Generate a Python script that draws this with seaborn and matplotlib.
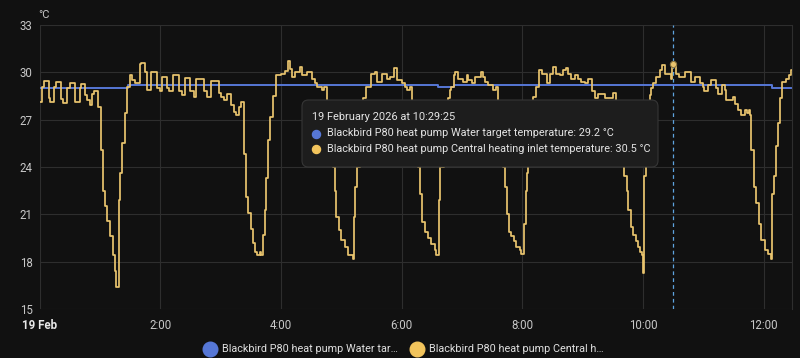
import matplotlib
matplotlib.use("Agg")
import pandas as pd
import seaborn as sns
import matplotlib.pyplot as plt
from matplotlib.patches import FancyBboxPatch
from matplotlib.lines import Line2D

# --- data (minutes after midnight, 19 Feb 2026) ---
target_steps = [
    (0, 29.0), (88, 29.2), (396, 29.1), (412, 29.2), (728.5, 29.0), (748, 29.0),
]

inlet_steps = [
    (0, 28.1), (2, 29.1), (4.5, 29.45), (9, 28.35), (10.5, 28.15), (14.5, 29.1), (16.5, 29.4),
    (21, 28.3), (23, 28.05), (27.5, 29.0), (30, 29.3), (35, 28.1), (40, 29.0), (41.5, 29.25),
    (45.5, 28.55), (47.5, 28.25), (50, 27.9), (52, 28.6), (54, 28.8), (58, 27.8),
    (61, 25.1), (63, 22.5), (65, 21.5), (67.5, 20.6), (70, 19.6), (73.5, 18.4), (75, 17.4),
    (76.5, 16.4), (79, 21.9), (80.5, 23.6), (82.5, 25.5), (85, 27.4), (87, 29.1),
    (89.5, 29.8), (92, 29.5), (94.5, 29.3), (99.5, 30.5), (101, 30.6), (105, 30.05), (106.5, 28.9),
    (111, 30.05), (117, 29.0), (119.5, 28.8), (121.5, 29.7), (126.5, 29.0), (128.5, 28.8),
    (132.5, 29.8), (138.5, 28.8), (141.5, 28.55), (145, 29.65), (150, 28.8), (153.5, 28.45),
    (156, 29.6), (163.5, 28.8), (166.5, 28.45), (170.5, 29.45), (178, 28.7), (180.5, 28.45),
    (183, 28.25), (186, 28.6), (190.5, 27.9), (193, 27.5), (195.5, 27.3), (198, 27.8), (200, 28.1),
    (203, 24.8), (205, 22.1), (207.5, 21.1), (210, 20.1), (212, 19.2), (214, 18.6), (216, 18.4),
    (219, 18.6), (220.5, 18.4), (222.5, 19.7), (224, 21.3), (225.5, 23.3), (227.5, 25.7),
    (229.5, 27.2), (232, 28.5), (235, 29.8), (240, 29.9), (244, 30.1), (247, 30.7), (249, 30.2),
    (251, 29.7), (254, 30.0), (259, 30.35), (261, 29.8), (265.5, 30.05), (270.5, 29.6),
    (273.5, 29.3), (275.5, 29.1), (280.5, 28.9), (283, 29.1),
    (285.5, 26.5), (288.5, 25.0), (292, 24.0), (293.5, 22.5), (295, 20.85), (298, 20.0),
    (300, 19.4), (303.5, 18.95), (306.5, 18.4), (311.5, 18.2), (312.5, 20.85), (313.5, 22.75),
    (315.5, 24.0), (318.5, 26.5), (321.5, 28.4), (325, 29.1), (329.5, 29.9), (333, 30.05),
    (335, 29.4), (340.5, 29.9), (345, 29.6), (348, 29.7), (352, 30.25), (355, 29.5), (360, 29.3),
    (363, 29.1), (365, 28.9), (368, 29.1),
    (370, 26.5), (373, 25.0), (376.5, 24.0), (378, 22.3), (380.5, 20.5), (383, 19.9), (386, 19.5),
    (389.5, 19.15), (393, 18.75), (394.5, 18.4), (397, 21.9), (398.5, 24.0), (402, 26.5),
    (406, 28.4), (408, 28.9), (409.5, 29.1), (412, 29.8), (413.5, 30.05), (416, 29.6), (421, 29.4),
    (424.5, 29.8), (426, 29.5), (429.5, 29.3), (432.5, 29.7), (439, 30.05), (441, 29.7),
    (442.5, 29.4), (446, 29.2), (451, 28.9), (454, 29.1),
    (456, 26.5), (458.5, 25.0), (461, 24.0), (462.5, 22.75), (465, 21.05), (467, 19.9), (469, 19.6),
    (471.5, 19.3), (474, 18.95), (477.5, 18.75), (479, 18.5), (481.5, 20.4), (483.5, 22.5),
    (484.5, 23.6), (486, 25.5), (488, 27.0), (490.5, 28.45), (494, 29.1), (497, 30.15), (499, 29.9),
    (504, 29.3), (507, 29.9), (510.5, 30.35), (513, 29.9), (517, 29.8), (520.5, 30.15),
    (523.5, 30.25), (525.5, 29.9), (528.5, 29.6), (532, 29.8), (535, 29.6), (538.5, 29.4),
    (542, 29.3), (545, 29.6), (549, 28.8), (552, 28.35), (555, 28.65), (562, 28.35), (570, 28.7),
    (573.5, 26.5), (576.5, 25.2), (580, 24.2), (581.5, 23.4), (583.5, 22.5), (585, 21.3),
    (587.5, 20.2), (590, 19.7), (592.5, 19.3), (595, 18.95), (597, 18.6), (599, 18.4), (600, 17.3),
    (601, 23.4), (602.5, 24.2), (605, 26.3), (606.5, 28.55), (608, 29.0), (610, 29.3), (613, 29.7),
    (617, 30.15), (619, 30.45), (622, 29.9), (627.5, 29.6), (629, 30.5), (633, 29.9), (636, 29.7),
    (642, 30.05), (647.5, 29.4), (652, 29.7), (657, 29.3), (659.5, 29.1), (661, 28.8), (664.5, 29.2),
    (667, 29.5), (672, 29.0), (674.5, 28.65), (678, 29.2), (681, 28.9), (682.5, 28.25), (689, 28.45),
    (691, 28.0), (694, 27.6), (697.5, 27.3), (701, 27.6), (703, 27.4), (705, 27.6), (706.5, 27.3),
    (707.5, 25.1), (710, 22.75), (712.5, 21.7), (715, 20.4), (717.5, 19.4), (721, 18.75),
    (724, 18.5), (727.5, 18.2), (728.5, 22.3), (730.5, 23.4), (732.5, 25.3), (734, 26.8),
    (736.5, 28.35), (738.5, 29.4), (742.5, 29.6), (745.5, 29.8), (747, 30.15), (748, 30.15),
]

x_ticks = [0, 2, 4, 6, 8, 10, 12]
x_tick_labels = ["19 Feb", "2:00", "4:00", "6:00", "8:00", "10:00", "12:00"]
y_ticks = [15, 18, 21, 24, 27, 30, 33]

cursor_minute = 629.4
cursor_label = "19 February 2026 at 10:29:25"
cursor_target = 29.2
cursor_inlet = 30.5

target_name = "Blackbird P80 heat pump Water target temperature"
inlet_name = "Blackbird P80 heat pump Central heating inlet temperature"
legend_labels = ["Blackbird P80 heat pump Water tar\u2026", "Blackbird P80 heat pump Central h\u2026"]

# --- colours ---
BG = "#111111"
GRID = "#2e2e2e"
TICK = "#c8c8c8"
BLUE = "#5677d6"
YELLOW = "#e9c46e"
LEG_YELLOW = "#f2c45c"
CURSOR = "#5fa4e0"

target = pd.DataFrame(target_steps, columns=["minute", "temp"])
inlet = pd.DataFrame(inlet_steps, columns=["minute", "temp"])
target["hour"] = target["minute"] / 60
inlet["hour"] = inlet["minute"] / 60

sns.set_theme(style="dark")
plt.rcParams["font.family"] = ["Roboto", "DejaVu Sans"]

fig = plt.figure(figsize=(8, 3.58), dpi=100, facecolor=BG)
ax = fig.add_axes([39.5 / 800, 49 / 358, (792 - 39.5) / 800, 284 / 358])
ax.set_facecolor(BG)

sns.lineplot(data=target, x="hour", y="temp", ax=ax, color=BLUE, lw=1.4,
             drawstyle="steps-post", estimator=None, legend=False)
sns.lineplot(data=inlet, x="hour", y="temp", ax=ax, color=YELLOW, lw=1.25,
             drawstyle="steps-post", estimator=None, legend=False)

# hover cursor
cursor_hour = cursor_minute / 60
ax.axvline(cursor_hour, color=CURSOR, lw=0.9, ls=(0, (3, 2.5)), zorder=1)
ax.plot([cursor_hour], [cursor_inlet], "o", ms=4.5, mfc=YELLOW, mec="#8a7440", mew=0.8)

ax.set_xlim(0, inlet["hour"].max())
ax.set_ylim(15, 33)
ax.set_xticks(x_ticks)
ax.set_xticklabels(x_tick_labels)
ax.set_yticks(y_ticks)
ax.set_xlabel("")
ax.set_ylabel("")
ax.grid(True, color=GRID, lw=0.8)
ax.set_axisbelow(True)
ax.tick_params(length=0, colors=TICK, labelsize=8.3)
ax.tick_params(axis="y", pad=5)
ax.tick_params(axis="x", pad=7)
ax.get_xticklabels()[0].set_fontweight("bold")
ax.get_xticklabels()[0].set_color("#e8e8e8")
for side in ["top", "left", "bottom"]:
    ax.spines[side].set_visible(False)
ax.spines["right"].set_color(GRID)
ax.spines["right"].set_linewidth(0.8)

fig.text(38 / 800, 1 - 15 / 358, "\u00b0C", color=TICK, fontsize=8, va="center")

# tooltip
box = FancyBboxPatch((302 / 800, 1 - 167 / 358), 356 / 800, 67 / 358,
                     boxstyle="round,pad=0,rounding_size=0.008", mutation_aspect=800 / 358,
                     transform=fig.transFigure, facecolor="#1d1d1d", edgecolor="#363636",
                     lw=0.8, zorder=5)
fig.add_artist(box)
fig.text(311.5 / 800, 1 - 117 / 358, cursor_label, color="#e4e4e4", fontsize=7.9,
         va="center", zorder=6)
rows = [(BLUE, f"{target_name}: {cursor_target} \u00b0C", 133.5),
        (LEG_YELLOW, f"{inlet_name}: {cursor_inlet} \u00b0C", 149.5)]
for col, txt, ypix in rows:
    fig.add_artist(Line2D([316 / 800], [1 - ypix / 358], marker="o", ms=5.8, color=col,
                          transform=fig.transFigure, zorder=6))
    fig.text(327 / 800, 1 - ypix / 358, txt, color="#e4e4e4", fontsize=7.8,
             va="center", zorder=6)

# legend
for col, txt, xc in [(BLUE, legend_labels[0], 210), (LEG_YELLOW, legend_labels[1], 417)]:
    fig.add_artist(Line2D([xc / 800], [1 - 348.5 / 358], marker="o", ms=10.5, color=col,
                          transform=fig.transFigure))
    fig.text((xc + 12) / 800, 1 - 348.5 / 358, txt, color="#e0e0e0", fontsize=7.8,
             va="center")

fig.savefig("out.png", dpi=100, facecolor=BG)
plt.close(fig)
